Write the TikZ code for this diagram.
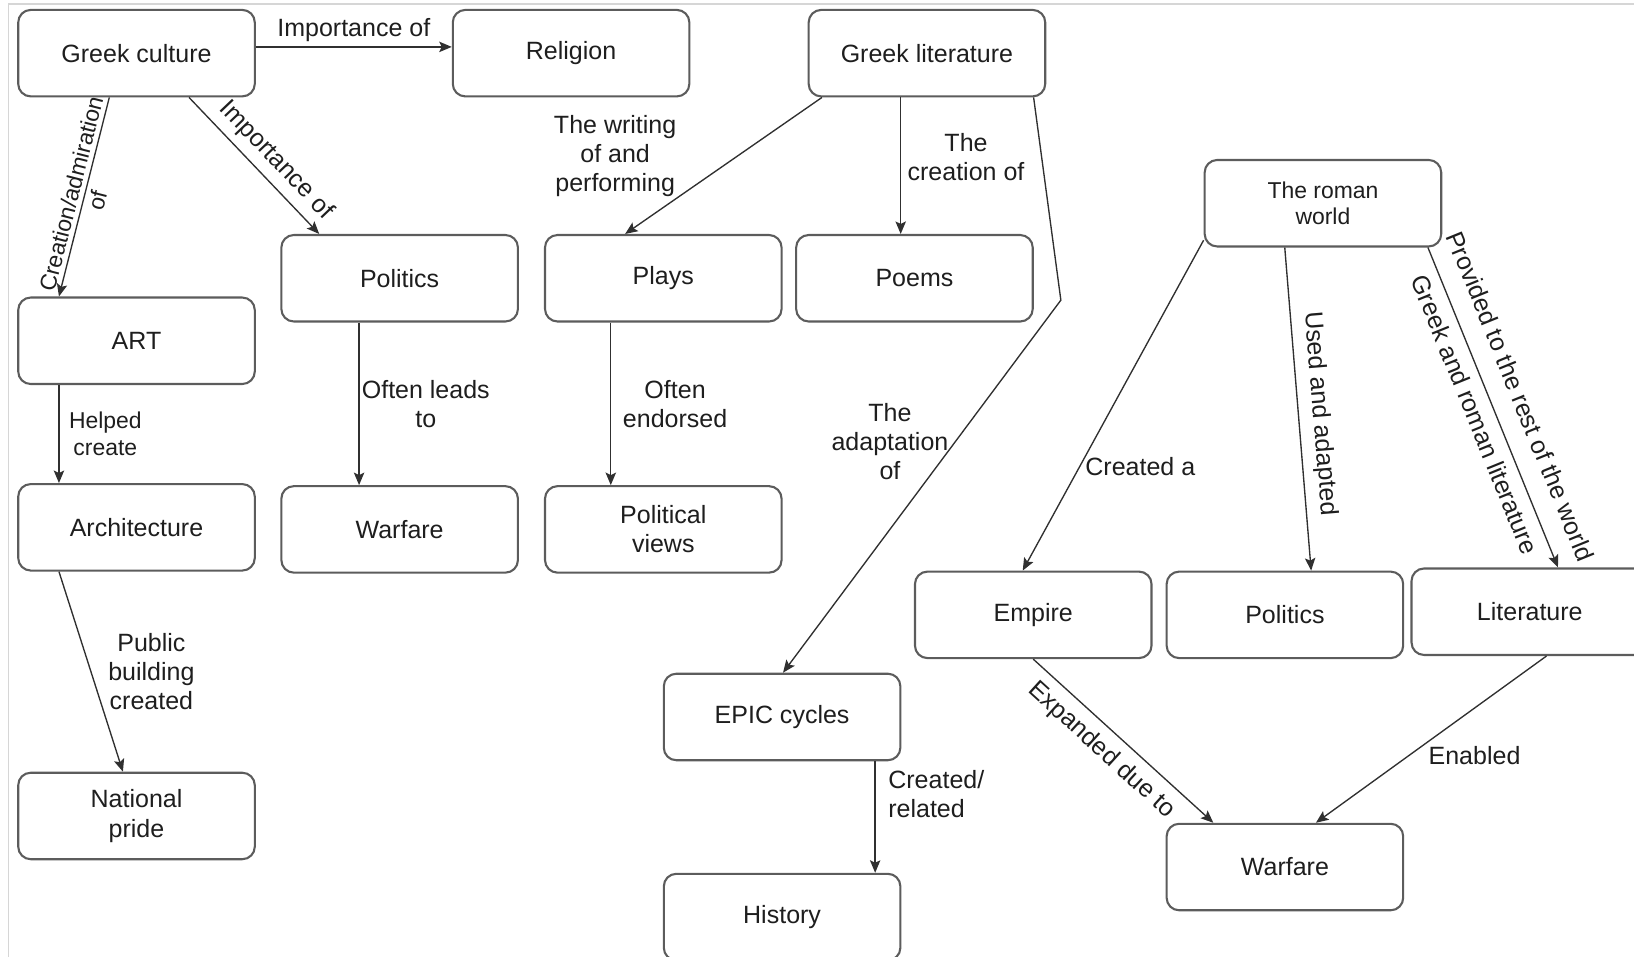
\documentclass[tikz,border=0pt]{standalone}
\usepackage{fontspec}
\setmainfont{Liberation Sans}
\usetikzlibrary{arrows.meta,calc}
\definecolor{boxgray}{HTML}{5C5C5C}
\definecolor{linecol}{HTML}{303030}
\definecolor{txt}{HTML}{1E1E1E}
\definecolor{framecol}{HTML}{D6D6D6}
\begin{document}
\begin{tikzpicture}[x=0.5pt,y=-0.5pt,
  box/.style={draw=boxgray, line width=1pt, rounded corners=6pt, minimum width=113.5pt, minimum height=41.5pt, inner sep=0pt, align=center, fill=white, text=txt, font=\fontsize{12}{14}\selectfont},
  smallbox/.style={box, font=\fontsize{11}{12.5}\selectfont},
  conn/.style={draw=linecol, line width=0.65pt, -{Stealth[length=6pt,width=5pt,inset=1.2pt]}},
  lbl/.style={inner sep=1pt, text=txt, font=\fontsize{12}{14}\selectfont, align=center},
  slbl/.style={lbl, font=\fontsize{11}{13}\selectfont}]
\useasboundingbox (0,0) rectangle (1568,918);
\draw[framecol, line width=0.8pt] (8,918) -- (8,4) -- (1568,4);

% nodes
\node[box] (gc) at (131,51) {Greek culture};
\node[box] (rel) at (548,51) {Religion};
\node[box] (glit) at (889.5,51) {Greek literature};
\node[box] (pol1) at (383.5,267) {Politics};
\node[box] (plays) at (636.5,267) {Plays};
\node[box] (poems) at (877.5,267) {Poems};
\node[box] (art) at (131,327) {ART};
\node[box] (arch) at (131,506) {Architecture};
\node[box] (war1) at (383.5,508) {Warfare};
\node[box] (pv) at (636.5,508) {Political\\views};
\node[box] (np) at (131,783) {National\\pride};
\node[box] (epic) at (750.5,688) {EPIC cycles};
\node[box] (hist) at (750.5,880) {History};
\node[smallbox] (rw) at (1269.5,195) {The roman\\world};
\node[box] (emp) at (991.5,590) {Empire};
\node[box] (pol2) at (1233,590) {Politics};
\node[box] (lit) at (1468,587) {Literature};
\node[box] (war2) at (1233,832) {Warfare};

% helper coordinates
\coordinate (a1) at ($(gc.east)+(0,-6)$);
\coordinate (d1) at ($(art.south west)!0.175!(art.south east)$);
\coordinate (f1) at ($(pol1.south west)!0.33!(pol1.south east)$);
\coordinate (h1) at ($(glit.south west)!0.39!(glit.south east)$);
\coordinate (j1) at ($(plays.south west)!0.28!(plays.south east)$);
\coordinate (k1) at ($(epic.south west)!0.89!(epic.south east)$);
\coordinate (bend) at (1018,288);

% connectors
\draw[conn] (a1) -- node[lbl, above=1pt] {Importance of} (a1 -| rel.west);
\draw[conn] ($(gc.south west)!0.386!(gc.south east)$) -- node[slbl, sloped, midway] {Creation/admiration\\of} ($(art.north west)!0.175!(art.north east)$);
\draw[conn] ($(gc.south west)!0.72!(gc.south east)$) -- node[lbl, sloped, above=2.5pt, pos=0.56] {Importance of} ($(pol1.north west)!0.163!(pol1.north east)$);
\draw[conn] (d1) -- node[slbl, midway, right=3.5pt] {Helped\\create} (d1 |- arch.north);
\draw[conn] ($(arch.south west)!0.175!(arch.south east)$) -- node[lbl, midway, right=7pt] {Public\\building\\created} ($(np.north west)!0.443!(np.north east)$);
\draw[conn] (f1) -- node[lbl, midway, right=0pt] {Often leads\\to} (f1 |- war1.north);
\draw[conn] ($(glit.south west)!0.06!(glit.south east)$) -- node[lbl, midway, xshift=-52pt, yshift=4.5pt] {The writing\\of and\\performing} ($(plays.north west)!0.34!(plays.north east)$);
\draw[conn] (h1) -- node[lbl, midway, right=2pt, yshift=4pt] {The\\creation of} (h1 |- poems.north);
\draw[conn] ($(glit.south west)!0.947!(glit.south east)$) -- (bend) -- node[lbl, pos=0.38, left=2pt] {The\\adaptation\\of} ($(epic.north west)!0.504!(epic.north east)$);
\draw[conn] (j1) -- node[lbl, midway, right=4.5pt] {Often\\endorsed} (j1 |- pv.north);
\draw[conn] (k1) -- node[lbl, align=left, midway, right=5pt, yshift=11pt] {Created/\\related} (k1 |- hist.north);
\draw[conn] ($(rw.south west)+(0,-7)$) -- node[lbl, pos=0.686, right=1.5pt] {Created a} ($(emp.north west)!0.456!(emp.north east)$);
\draw[conn] ($(rw.south west)!0.34!(rw.south east)$) -- node[lbl, sloped, above=3.5pt, pos=0.52] {Used and adapted} ($(pol2.north west)!0.61!(pol2.north east)$);
\draw[conn] ($(rw.south west)!0.94!(rw.south east)$) -- node[lbl, sloped, above=8.5pt, midway] {Provided to the rest of the world} node[lbl, sloped, below=3.5pt, midway] {Greek and roman literature} ($(lit.north west)!0.618!(lit.north east)$);
\draw[conn] ($(emp.south west)!0.5!(emp.south east)$) -- node[lbl, sloped, below=3.5pt, pos=0.46] {Expanded due to} ($(war2.north west)!0.2!(war2.north east)$);
\draw[conn] ($(lit.south west)!0.57!(lit.south east)$) -- node[lbl, pos=0.6, right=8.5pt] {Enabled} ($(war2.north west)!0.63!(war2.north east)$);
\end{tikzpicture}
\end{document}
